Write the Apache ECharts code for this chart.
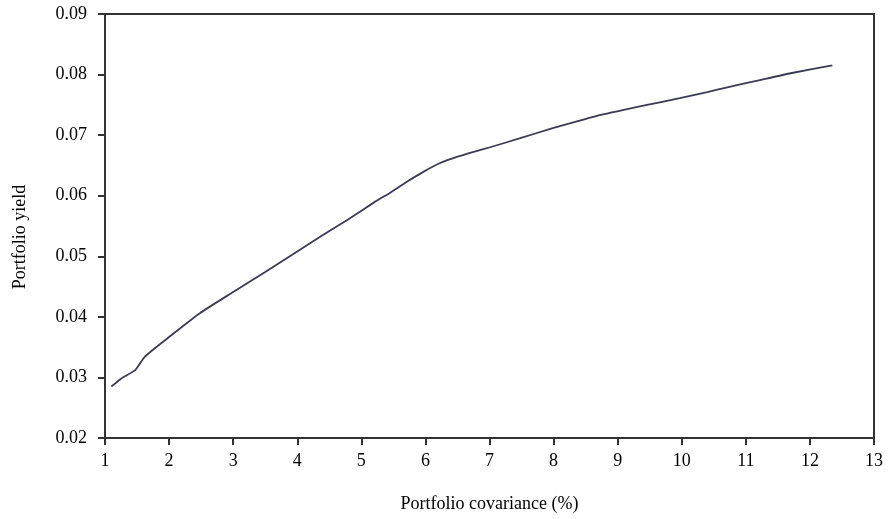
<!DOCTYPE html>
<html>
<head>
<meta charset="utf-8">
<script src="https://cdn.jsdelivr.net/npm/echarts@6/dist/echarts.min.js"></script>
<style>html,body{margin:0;padding:0;background:#fff;}#chart{width:894px;height:519px;}</style>
</head>
<body>
<div id="chart"></div>
<script>
const covariance = [1.10, 1.25, 1.47, 1.62, 1.98, 2.48, 3.00, 3.50, 4.00, 4.40, 4.78, 5.20, 5.45, 5.71, 5.96, 6.23, 6.49, 6.74, 7.01, 7.48, 8.00, 8.41, 8.72, 9.46, 9.97, 10.40, 10.71, 11.22, 11.74, 12.35];
const yieldVals = [0.0285, 0.0298, 0.0312, 0.0334, 0.0365, 0.0406, 0.0441, 0.0474, 0.0508, 0.0535, 0.0560, 0.0589, 0.0605, 0.0623, 0.0639, 0.0654, 0.0664, 0.0672, 0.0680, 0.0695, 0.0712, 0.0724, 0.0733, 0.0750, 0.0761, 0.0771, 0.0779, 0.0791, 0.0803, 0.0815];
const xTicks = [1,2,3,4,5,6,7,8,9,10,11,12,13];
const yTicks = [0.02,0.03,0.04,0.05,0.06,0.07,0.08,0.09];

const font = '"Liberation Serif", "Times New Roman", serif';
const chart = echarts.init(document.getElementById('chart'));
chart.setOption({
  animation: false,
  grid: {left: 105, right: 20, top: 14, bottom: 81, show: true, borderColor: '#333', borderWidth: 2, backgroundColor: 'transparent'},
  xAxis: {
    type: 'value', min: xTicks[0], max: xTicks[xTicks.length-1], interval: 1,
    name: 'Portfolio covariance (%)', nameLocation: 'middle', nameGap: 57,
    nameTextStyle: {fontFamily: font, fontSize: 18, color: '#000'},
    axisLine: {show: true, onZero: false, lineStyle: {color: '#333', width: 2}},
    axisTick: {show: true, inside: false, length: 7, lineStyle: {color: '#333', width: 2}},
    axisLabel: {fontFamily: font, fontSize: 18, color: '#000', margin: 14},
    splitLine: {show: false}
  },
  yAxis: {
    type: 'value', min: yTicks[0], max: yTicks[yTicks.length-1], interval: 0.01,
    name: 'Portfolio yield', nameLocation: 'middle', nameGap: 76,
    nameTextStyle: {fontFamily: font, fontSize: 18, color: '#000', padding: [0, 22, 0, 0]},
    axisLine: {show: true, onZero: false, lineStyle: {color: '#333', width: 2}},
    axisTick: {show: true, inside: false, length: 7, lineStyle: {color: '#333', width: 2}},
    axisLabel: {fontFamily: font, fontSize: 18, color: '#000', margin: 18, formatter: v => v.toFixed(2)},
    splitLine: {show: false}
  },
  series: [{
    type: 'line', data: covariance.map((x,i) => [x, yieldVals[i]]),
    showSymbol: false, smooth: 0.2,
    lineStyle: {color: '#3b3b52', width: 1.8}
  }]
});
</script>
</body>
</html>
